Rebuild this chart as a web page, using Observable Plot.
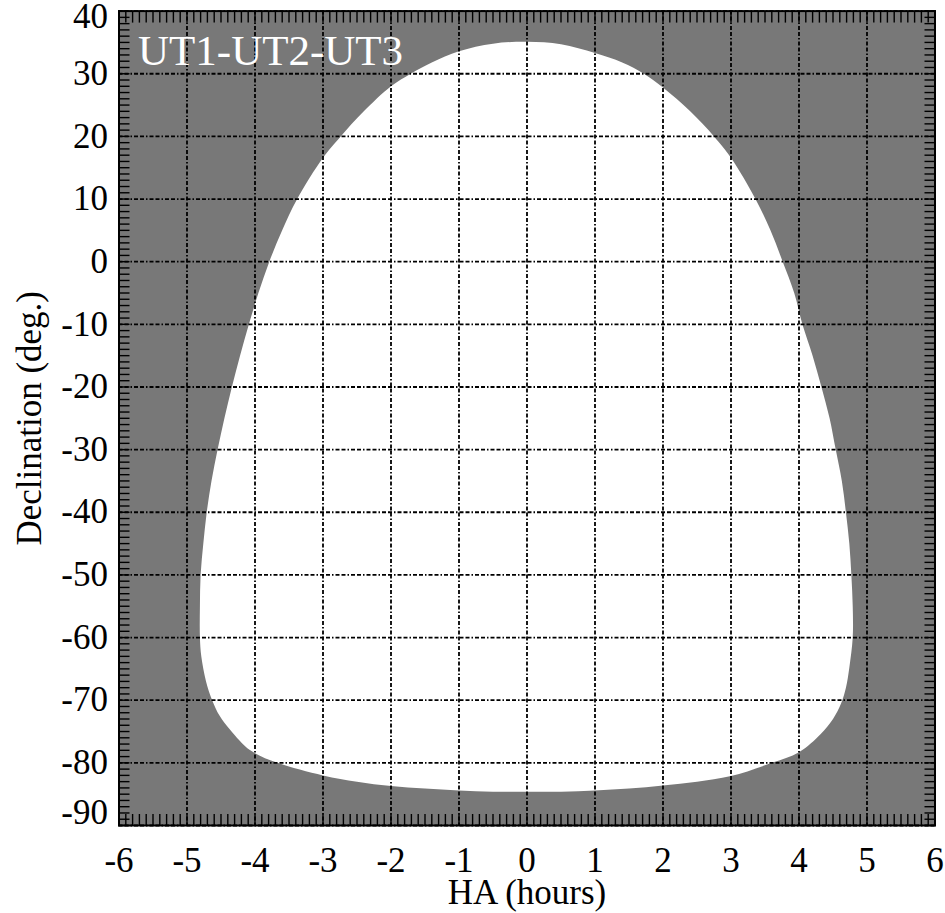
<!DOCTYPE html>
<html><head><meta charset="utf-8">
<script src="https://cdn.jsdelivr.net/npm/d3@7"></script>
<script src="https://cdn.jsdelivr.net/npm/@observablehq/plot@0.6"></script>
<style>body{margin:0;background:#fff}</style>
</head><body><div id="chart"></div>
<script>
const title = "UT1-UT2-UT3";
const xLabel = "HA (hours)";
const yLabel = "Declination (deg.)";
const xTicks = [-6, -5, -4, -3, -2, -1, 0, 1, 2, 3, 4, 5, 6];
const yTicks = [40, 30, 20, 10, 0, -10, -20, -30, -40, -50, -60, -70, -80, -90];

// Boundary of the observable (white) region, clockwise from the top
const boundaryHA = [0, 0.5, 1.0, 1.4, 1.72, 2.0, 2.4, 2.75, 3.0, 3.36, 3.58, 3.76, 3.93, 4.05, 4.2, 4.33, 4.45, 4.54, 4.63, 4.69, 4.74, 4.77, 4.79, 4.79, 4.74, 4.69, 4.62, 4.5, 4.32, 4.0, 3.6, 3.0, 2.5, 2.0, 1.5, 1.0, 0.5, 0, -0.5, -1.0, -1.5, -2.0, -2.5, -3.0, -3.67, -4.07, -4.36, -4.52, -4.63, -4.72, -4.79, -4.81, -4.81, -4.8, -4.76, -4.71, -4.64, -4.55, -4.45, -4.34, -4.22, -4.09, -3.95, -3.79, -3.6, -3.38, -3.0, -2.74, -2.4, -2.0, -1.71, -1.4, -1.0, -0.5];
const boundaryDec = [35.1, 34.7, 33.3, 31.8, 30, 27.8, 24.0, 20, 16.6, 10, 5, 0, -5, -10, -15, -20, -25, -30, -35, -40, -45, -50, -55, -60, -64.8, -68, -70.5, -73, -75.4, -78.3, -80, -82.1, -83.0, -83.6, -84.1, -84.4, -84.6, -84.6, -84.6, -84.4, -84.1, -83.7, -83.0, -82.0, -80, -78, -74.8, -72.5, -70, -67, -63, -60, -55, -50, -45, -40, -35, -30, -25, -20, -15, -10, -5, 0, 5, 10, 16.6, 20, 24.0, 28.0, 30, 31.8, 33.6, 34.8];

const boundary = boundaryHA.map((ha, i) => ({ha, dec: boundaryDec[i]}));
const xMinor = d3.range(-60, 61).map(v => v / 10);
const yMinor = d3.range(-90, 41);
const yMid = yTicks.filter(v => v !== 40 && v !== -90);

const font = "'Liberation Serif', 'Times New Roman', serif";
const grid = {stroke: "black", strokeOpacity: 1, strokeWidth: 1.8, strokeDasharray: "4,2,4,2,1.5,2"};
const minor = {tickSize: -11, tickFormat: () => "", label: null, stroke: "black", strokeWidth: 1.4};
const lab = {tickSize: 0, label: null, fontSize: 35, fontFamily: font, fill: "black", tickFormat: d => String(d)};

const chart = Plot.plot({
  width: 945,
  height: 913,
  marginLeft: 118.5,
  marginRight: 10.5,
  marginTop: 10.6,
  marginBottom: 88,
  style: {fontFamily: font, background: "white"},
  x: {domain: [-6, 6], label: null},
  y: {domain: [-90, 40], label: null},
  marks: [
    Plot.frame({fill: "#787878"}),
    Plot.line(boundary, {x: "ha", y: "dec", fill: "white", stroke: "none", curve: "catmull-rom-closed"}),
    Plot.gridX(xTicks, grid),
    Plot.gridY(yTicks, grid),
    Plot.axisX(xMinor, {anchor: "bottom", ...minor}),
    Plot.axisX(xMinor, {anchor: "top", ...minor}),
    Plot.axisY(yMinor, {anchor: "left", ...minor}),
    Plot.axisY(yMinor, {anchor: "right", ...minor}),
    Plot.axisX(xTicks, {anchor: "bottom", tickPadding: 22, ...lab}),
    Plot.axisY(yMid, {anchor: "left", tickPadding: 11, ...lab}),
    Plot.axisY([40], {anchor: "left", tickPadding: 11, dy: 6, ...lab}),
    Plot.axisY([-90], {anchor: "left", tickPadding: 11, dy: -13, ...lab}),
    Plot.text([title], {frameAnchor: "top-left", dx: 19, dy: 40.6, textAnchor: "start", lineAnchor: "middle", fill: "white", fontSize: 43, fontFamily: font}),
    Plot.text([xLabel], {frameAnchor: "bottom", dy: 67, textAnchor: "middle", lineAnchor: "middle", fontSize: 35, fontFamily: font, fill: "black"}),
    Plot.text([yLabel], {frameAnchor: "left", rotate: -90, dx: -89.5, textAnchor: "middle", lineAnchor: "middle", fontSize: 35, fontFamily: font, fill: "black"}),
    Plot.frame({stroke: "black", strokeWidth: 2})
  ]
});
document.getElementById("chart").append(chart);
</script>
</body></html>
